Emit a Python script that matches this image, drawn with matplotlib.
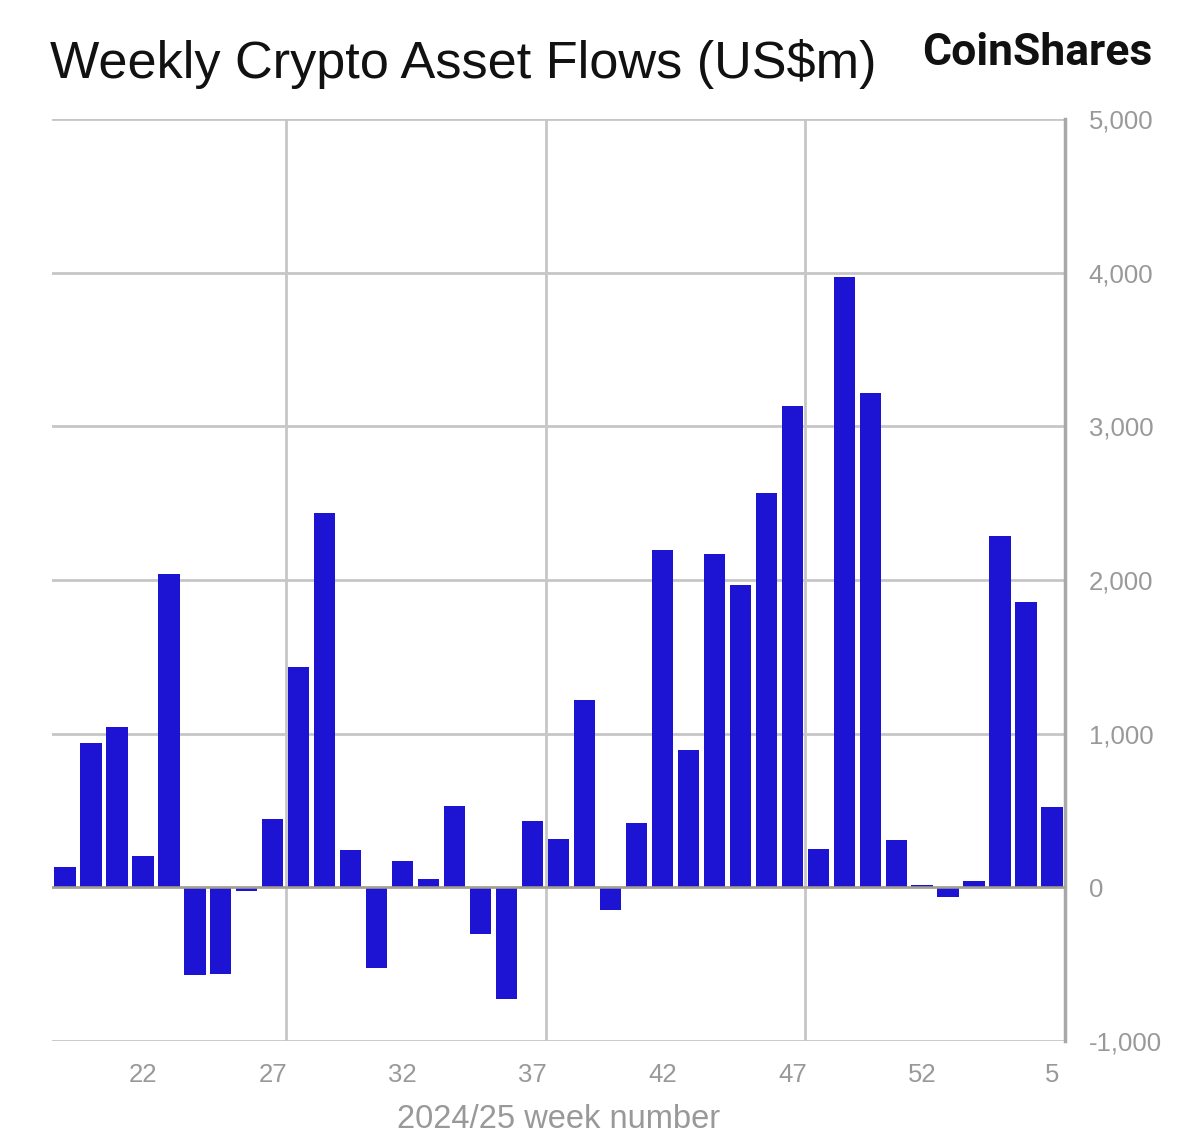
import matplotlib
matplotlib.use("Agg")
import matplotlib.pyplot as plt
from matplotlib import font_manager
from matplotlib.ticker import FixedLocator, FuncFormatter

weeks = ["19", "20", "21", "22", "23", "24", "25", "26", "27", "28", "29", "30",
         "31", "32", "33", "34", "35", "36", "37", "38", "39", "40", "41", "42",
         "43", "44", "45", "46", "47", "48", "49", "50", "51", "52", "1", "2",
         "3", "4", "5"]
flows = [134, 938, 1046, 204, 2041, -571, -567, -24, 443, 1431, 2434, 245,
         -528, 171, 56, 530, -304, -728, 430, 313, 1218, -150, 419, 2195,
         892, 2171, 1969, 2567, 3133, 248, 3975, 3218, 305, 14, -65, 42,
         2287, 1857, 522]
labelled_weeks = ["22", "27", "32", "37", "42", "47", "52", "5"]
y_ticks = [-1000, 0, 1000, 2000, 3000, 4000, 5000]

title = "Weekly Crypto Asset Flows (US$m)"
brand = "CoinShares"
x_label = "2024/25 week number"

names = {f.name for f in font_manager.fontManager.ttflist}
base_font = "Liberation Sans" if "Liberation Sans" in names else "DejaVu Sans"
brand_font = "Roboto" if "Roboto" in names else base_font
plt.rcParams["font.family"] = [base_font, "DejaVu Sans"]

BAR = "#1C14D2"
GRID = "#c6c6c6"
TXT = "#999999"

fig = plt.figure(figsize=(12, 11.44), dpi=100)
ax = fig.add_axes([52 / 1200, 1 - 1041 / 1144, (1065 - 52) / 1200, (1041 - 119) / 1144])

x = list(range(len(weeks)))
ax.bar(x, flows, width=0.82, color=BAR, zorder=3)

ax.set_xlim(-0.5, len(weeks) - 0.5)
ax.set_ylim(-1000, 5000)

# y axis on the right
ax.yaxis.tick_right()
ax.set_yticks(y_ticks)
ax.yaxis.set_major_formatter(FuncFormatter(lambda v, p: f"{int(v):,}"))
ax.tick_params(axis="y", length=0, pad=17, labelsize=18.5, labelcolor=TXT)
for lab in ax.get_yticklabels():
    lab.set_horizontalalignment("left")

pos = [weeks.index(w) for w in labelled_weeks]
ax.set_xticks(pos)
ax.set_xticklabels(labelled_weeks)
ax.tick_params(axis="x", length=0, pad=16, labelsize=18.5, labelcolor=TXT)

# grid: horizontal at major y ticks, vertical every 10 categories at boundaries
ax.xaxis.set_minor_locator(FixedLocator([8.5, 18.5, 28.5]))
ax.grid(axis="y", which="major", color=GRID, linewidth=2, zorder=0)
ax.grid(axis="x", which="minor", color=GRID, linewidth=2, zorder=0)
ax.tick_params(axis="x", which="minor", length=0)
ax.axhline(0, color="#a4a092", linewidth=1.8, zorder=4)

for s in ["top", "left", "bottom"]:
    ax.spines[s].set_visible(False)
ax.spines["right"].set_color("#a8a8a8")
ax.spines["right"].set_linewidth(2.5)

ax.set_xlabel(x_label, fontsize=23.5, color=TXT, labelpad=12)

fig.text(50 / 1200, 1 - 64 / 1144, title, fontsize=37.6, color="#111111",
         ha="left", va="center")
fig.text(1152 / 1200, 1 - 53 / 1144, brand, fontsize=32, fontweight="bold",
         family=[brand_font, "DejaVu Sans"], color="#111111",
         ha="right", va="center")

fig.savefig("out.png", dpi=100, facecolor="white")
